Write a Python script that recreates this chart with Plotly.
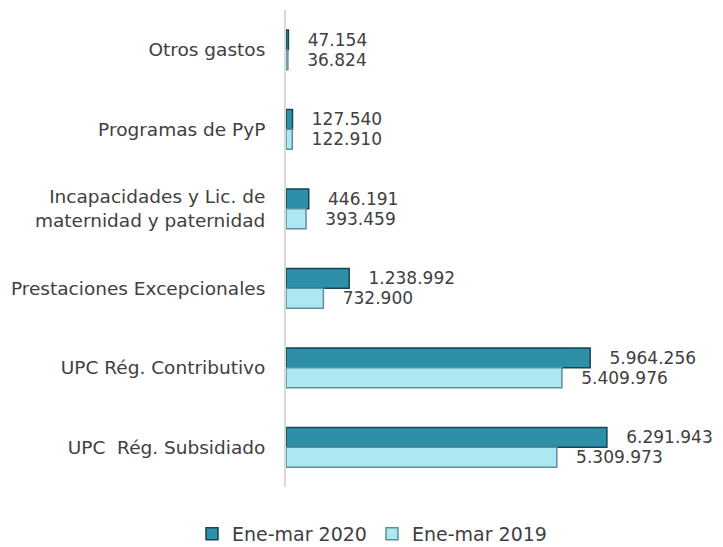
import plotly.graph_objects as go

categories = [
    "Otros gastos",
    "Programas de PyP",
    "Incapacidades y Lic. de<br>maternidad y paternidad",
    "Prestaciones Excepcionales",
    "UPC Rég. Contributivo",
    "UPC  Rég. Subsidiado",
]
series_names = ["Ene-mar 2020", "Ene-mar 2019"]
values_2020 = [47154, 127540, 446191, 1238992, 5964256, 6291943]
values_2019 = [36824, 122910, 393459, 732900, 5409976, 5309973]


def fmt(v):
    return f"{v:,}".replace(",", ".")


FONT = "DejaVu Sans"
TXT = "#404040"

fig = go.Figure()
fig.add_trace(go.Bar(
    y=categories, x=values_2020, orientation="h", name=series_names[0],
    marker=dict(color="#2e8fa9", line=dict(color="#164654", width=1.5)),
    text=[fmt(v) for v in values_2020], textposition="outside",
    cliponaxis=False,
    textfont=dict(family=FONT, size=18, color=TXT),
))
fig.add_trace(go.Bar(
    y=categories, x=values_2019, orientation="h", name=series_names[1],
    marker=dict(color="#ade8f2", line=dict(color="#5f8f99", width=1.5)),
    text=[fmt(v) for v in values_2019], textposition="outside",
    cliponaxis=False,
    textfont=dict(family=FONT, size=18, color=TXT),
))

fig.update_traces(texttemplate="   %{text}")

fig.update_layout(
    width=723, height=547,
    margin=dict(l=286, r=29, t=10, b=60, autoexpand=False),
    paper_bgcolor="white", plot_bgcolor="white",
    barmode="group", bargap=0.5, bargroupgap=0,
    font=dict(family=FONT, size=18, color=TXT),
    showlegend=True,
    legend=dict(
        orientation="h", xref="container", yref="container",
        x=372 / 723, xanchor="center", y=1 - 534 / 547, yanchor="middle",
        font=dict(family=FONT, size=19, color=TXT),
        itemwidth=30,
    ),
)
fig.update_xaxes(range=[0, 8000000], visible=False)
fig.update_yaxes(
    autorange="reversed", showline=True, linecolor="#d9d9d9", linewidth=2,
    showgrid=False, ticks="", ticklabelstandoff=15, automargin=False,
    tickfont=dict(family=FONT, size=18.5, color=TXT),
)

fig.write_html("out.html", config={"displayModeBar": False},
               post_script="document.body.style.margin='0';")
